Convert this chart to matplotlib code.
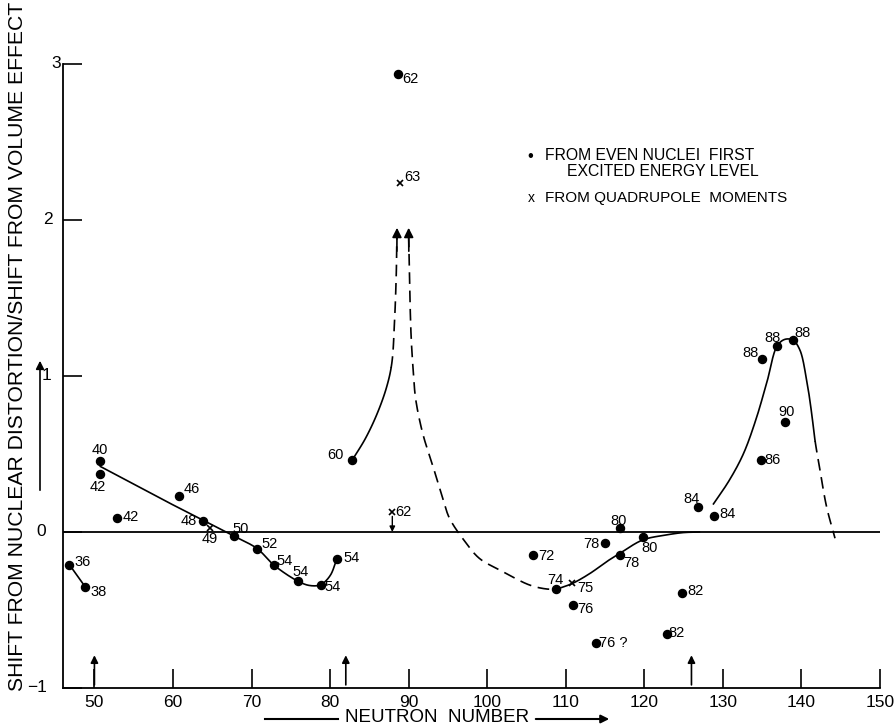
import numpy as np
import matplotlib
matplotlib.use("Agg")
import matplotlib.pyplot as plt
from matplotlib.transforms import blended_transform_factory, offset_copy

plt.rcParams['font.family'] = ['Liberation Sans', 'DejaVu Sans']

# ---------------- data ----------------
even_n = [50.76, 50.76, 52.93, 60.79, 63.80, 67.80, 70.73, 72.84, 75.86, 78.79, 80.87,
          46.82, 48.85, 82.83, 88.69, 105.84, 108.81, 110.89, 115.01, 116.88, 116.84,
          119.80, 124.82, 122.87, 113.86, 126.85, 128.85, 134.84, 137.94, 134.93, 136.92, 138.92]
even_y = [0.457, 0.369, 0.092, 0.233, 0.068, -0.027, -0.107, -0.212, -0.314, -0.338, -0.171,
          -0.210, -0.353, 0.462, 2.934, -0.147, -0.367, -0.466, -0.072, -0.149, 0.024,
          -0.034, -0.389, -0.656, -0.710, 0.158, 0.103, 0.460, 0.703, 1.111, 1.194, 1.231]
even_lbl = ['40', '42', '42', '46', '48', '50', '52', '54', '54', '54', '54',
            '36', '38', '60', '62', '72', '74', '76', '78', '78', '80',
            '80', '82', '82', '76 ?', '84', '84', '86', '90', '88', '88', '88']

quad_n = [64.69, 87.92, 88.85, 110.83]
quad_y = [0.024, 0.130, 2.235, -0.330]
quad_lbl = ['49', '62', '63', '75']

# hand-drawn guide curves (traced); *_solid = number of leading points drawn solid
curveA_n = [50.76, 59.0, 67.8, 70.73, 72.84, 75.86, 77.4, 78.79, 80.0, 80.87]
curveA_y = [0.42, 0.20, -0.027, -0.107, -0.212, -0.314, -0.343, -0.338, -0.28, -0.171]
curveAA_n = [46.82, 48.85]
curveAA_y = [-0.210, -0.353]
curveB_n = [82.83, 84.5, 86.0, 87.2, 87.85, 88.2, 88.42, 88.5]
curveB_y = [0.462, 0.60, 0.76, 0.93, 1.08, 1.35, 1.65, 1.90]
curveB_solid_max_y = 1.05
curveC_n = [90.0, 90.08, 90.3, 90.6, 90.9, 91.8, 93.1, 94.4, 95.2, 97.0, 99.0, 101.6, 105.4, 107.5, 108.81]
curveC_y = [1.90, 1.70, 1.27, 1.02, 0.85, 0.63, 0.42, 0.205, 0.088, -0.05, -0.169, -0.244, -0.34, -0.365, -0.367]
curveD_n = [108.81, 110.83, 113.1, 115.2, 116.88, 119.8, 122.8, 124.9, 127.0]
curveD_y = [-0.367, -0.330, -0.265, -0.19, -0.137, -0.051, -0.019, -0.004, 0.0]
curveE_n = [128.8, 130.8, 132.6, 134.2, 135.6, 136.92, 137.9, 138.92, 139.8, 140.66, 141.3, 141.72,
            142.36, 143.2, 144.27]
curveE_y = [0.18, 0.33, 0.50, 0.72, 0.96, 1.194, 1.235, 1.23, 1.167, 0.974, 0.761, 0.59,
            0.397, 0.162, -0.04]
curveE_solid_max_n = 141.72

shell_n = [50, 82, 126]
xticks = [50, 60, 70, 80, 90, 100, 110, 120, 130, 140, 150]
yticks = [-1, 0, 1, 2, 3]
ytick_lbl = ['−1', '0', '1', '2', '3']
ytick_dx = [-26, -22, -16, -15, -7]   # pixel offset of each y label centre from the spine

# label offsets in pixels (dx right, dy up)
even_off = [(-1, 11), (-3, -13), (13, 1), (13, 7), (-14, 0), (6, 7), (12, 5), (11, 4), (3, 9),
            (12, -2), (15, 1), (13, 3), (13, -5), (-17, 5), (12, -5), (13, -1), (-1, 9),
            (13, -4), (-14, -1), (12, -8), (-1, 7), (7, -11), (13, 2), (10, 1), (17, 0),
            (-7, 8), (14, 2), (12, 0), (1, 10), (-11, 6), (-5, 8), (10, 7)]
quad_off = [(0, -11), (11, 0), (13, 6), (13, -5)]

XPX = 785 / 104.0   # px per neutron (for display-space smoothing)
YPX = 156.0


def smooth(xs, ys, n=30):
    """centripetal Catmull-Rom through traced points (in display-like scaling)"""
    P = np.column_stack([np.asarray(xs) * XPX, np.asarray(ys) * YPX]).astype(float)
    P = np.vstack([2 * P[0] - P[1], P, 2 * P[-1] - P[-2]])
    out = []
    for i in range(1, len(P) - 2):
        p0, p1, p2, p3 = P[i - 1], P[i], P[i + 1], P[i + 2]
        t0 = 0.0
        t1 = t0 + np.linalg.norm(p1 - p0) ** 0.5 + 1e-9
        t2 = t1 + np.linalg.norm(p2 - p1) ** 0.5 + 1e-9
        t3 = t2 + np.linalg.norm(p3 - p2) ** 0.5 + 1e-9
        for t in np.linspace(t1, t2, n, endpoint=False):
            a1 = (t1 - t) / (t1 - t0) * p0 + (t - t0) / (t1 - t0) * p1
            a2 = (t2 - t) / (t2 - t1) * p1 + (t - t1) / (t2 - t1) * p2
            a3 = (t3 - t) / (t3 - t2) * p2 + (t - t2) / (t3 - t2) * p3
            b1 = (t2 - t) / (t2 - t0) * a1 + (t - t0) / (t2 - t0) * a2
            b2 = (t3 - t) / (t3 - t1) * a2 + (t - t1) / (t3 - t1) * a3
            out.append((t2 - t) / (t2 - t1) * b1 + (t - t1) / (t2 - t1) * b2)
    out.append(P[-2])
    out = np.array(out)
    return out[:, 0] / XPX, out[:, 1] / YPX


fig = plt.figure(figsize=(8.94, 7.26), dpi=100)
ax = fig.add_axes([63 / 894, 38 / 726, (880 - 63) / 894, (688 - 64) / 726])
ax.set_xlim(46, 150)
ax.set_ylim(-1, 3)

for s in ['top', 'right']:
    ax.spines[s].set_visible(False)
for s in ['left', 'bottom']:
    ax.spines[s].set_linewidth(1.3)

ax.set_xticks(xticks)
ax.set_xticklabels([str(v) for v in xticks])
ax.set_yticks(yticks)
ax.set_yticklabels([])
ax.tick_params(axis='x', direction='in', length=14, width=1.2, labelsize=12.5, pad=5)
ax.tick_params(axis='y', direction='in', length=14, width=1.2)

ytr = blended_transform_factory(ax.transAxes, ax.transData)
for v, t, dx in zip(yticks, ytick_lbl, ytick_dx):
    ax.text(0, v, t, transform=offset_copy(ytr, fig=fig, x=dx * 0.72, y=0, units='points'),
            ha='center', va='center', fontsize=12.5)

ax.axhline(0, color='k', lw=1.3, zorder=1)

dash = (0, (7, 4))
lk = dict(color='k', lw=1.2, zorder=2)
x, y = smooth(curveA_n, curveA_y); ax.plot(x, y, **lk)
ax.plot(curveAA_n, curveAA_y, **lk)

x, y = smooth(curveB_n, curveB_y)
k = np.argmax(y > curveB_solid_max_y)
ax.plot(x[:k + 1], y[:k + 1], **lk)
ax.plot(x[k:], y[k:], ls=dash, **lk)

x, y = smooth(curveC_n, curveC_y); ax.plot(x, y, ls=dash, **lk)
x, y = smooth(curveD_n, curveD_y); ax.plot(x, y, **lk)

x, y = smooth(curveE_n, curveE_y)
k = np.argmax(x > curveE_solid_max_n)
ax.plot(x[:k + 1], y[:k + 1], **lk)
ax.plot(x[k:], y[k:], ls=dash, **lk)

# arrow heads on dashed curves
ap = dict(arrowstyle='-|>', color='k', lw=1.2, mutation_scale=14, shrinkA=0, shrinkB=0)
ax.annotate('', xy=(88.52, 1.95), xytext=(88.5, 1.80), arrowprops=ap)
ax.annotate('', xy=(90.0, 1.95), xytext=(90.02, 1.80), arrowprops=ap)

# small arrow from x62 down to the axis
ax.annotate('', xy=(quad_n[1], 0.0), xytext=(quad_n[1], quad_y[1] - 0.03),
            arrowprops=dict(arrowstyle='-|>', color='k', lw=1.0, mutation_scale=8, shrinkA=0, shrinkB=0))

# shell closure arrows
for n in shell_n:
    ax.annotate('', xy=(n, -0.79), xytext=(n, -0.98),
                arrowprops=dict(arrowstyle='-|>', color='k', lw=1.2, mutation_scale=11, shrinkA=0, shrinkB=0))

ax.plot(even_n, even_y, 'o', color='k', ms=5.8, zorder=3)
ax.plot(quad_n, quad_y, 'x', color='k', ms=5, mew=1.2, zorder=3)

for n, v, t, (dx, dy) in zip(even_n, even_y, even_lbl, even_off):
    ax.annotate(t, (n, v), xytext=(dx * 0.72, dy * 0.72), textcoords='offset points',
                ha='center', va='center', fontsize=10.5)
for n, v, t, (dx, dy) in zip(quad_n, quad_y, quad_lbl, quad_off):
    ax.annotate(t, (n, v), xytext=(dx * 0.72, dy * 0.72), textcoords='offset points',
                ha='center', va='center', fontsize=10.5)


def fxy(px, py):
    return px / 894, 1 - py / 726


# legend-like text
fig.text(*fxy(530, 156), '•', fontsize=12, ha='center', va='center')
fig.text(*fxy(545, 156), 'FROM EVEN NUCLEI  FIRST', fontsize=11.3, ha='left', va='center')
fig.text(*fxy(567, 172), 'EXCITED ENERGY LEVEL', fontsize=11.3, ha='left', va='center')
fig.text(*fxy(531, 198), 'x', fontsize=10, ha='center', va='center')
fig.text(*fxy(545, 198), 'FROM QUADRUPOLE  MOMENTS', fontsize=11, ha='left', va='center')

# axis labels
fig.text(*fxy(18, 346), 'SHIFT FROM NUCLEAR DISTORTION/SHIFT FROM VOLUME EFFECT',
         rotation=90, fontsize=15.2, ha='center', va='center')
fig.add_artist(matplotlib.patches.FancyArrowPatch(fxy(40, 493), fxy(40, 358), transform=fig.transFigure,
                                                  arrowstyle='-|>', mutation_scale=12, color='k', lw=1.2))

fig.text(*fxy(437, 718), 'NEUTRON  NUMBER', fontsize=13.5, ha='center', va='center')
fig.add_artist(matplotlib.lines.Line2D([265 / 894, 338 / 894], [1 - 719 / 726] * 2, color='k', lw=1.5,
                                       transform=fig.transFigure))
fig.add_artist(matplotlib.patches.FancyArrowPatch(fxy(533, 719), fxy(612, 719), transform=fig.transFigure,
                                                  arrowstyle='-|>', mutation_scale=12, color='k', lw=1.5))

fig.savefig('out.png', dpi=100)
